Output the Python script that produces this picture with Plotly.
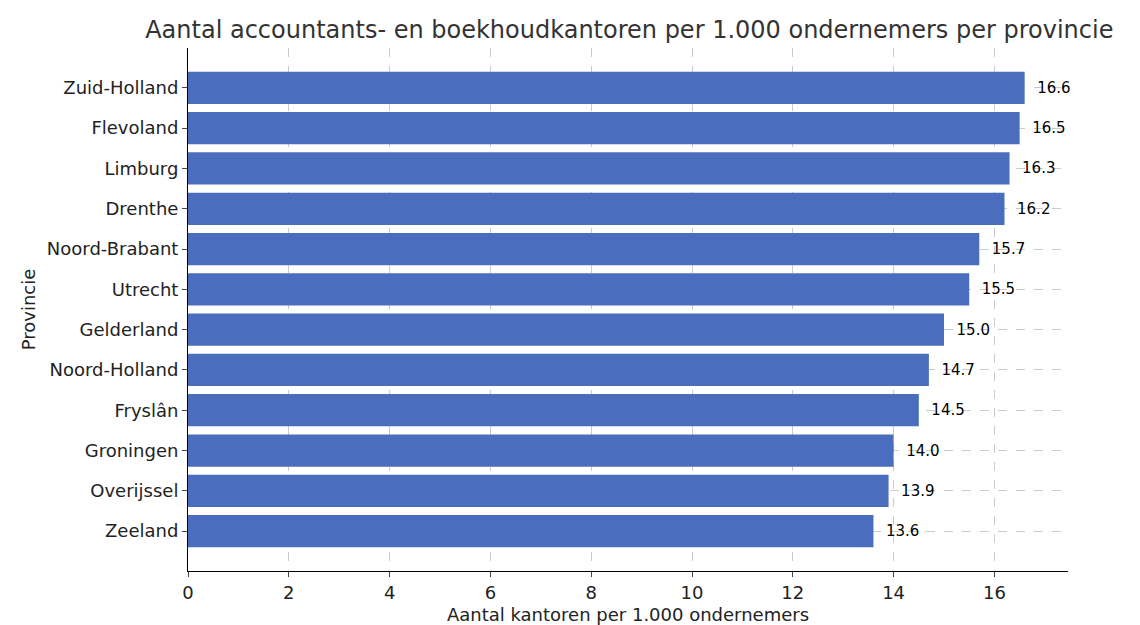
import plotly.graph_objects as go

provincies = ["Zuid-Holland", "Flevoland", "Limburg", "Drenthe", "Noord-Brabant", "Utrecht",
              "Gelderland", "Noord-Holland", "Fryslân", "Groningen", "Overijssel", "Zeeland"]
waarden = [16.6, 16.5, 16.3, 16.2, 15.7, 15.5, 15.0, 14.7, 14.5, 14.0, 13.9, 13.6]

fig = go.Figure(go.Bar(
    x=waarden, y=provincies, orientation="h", width=0.8,
    marker=dict(color="#4a6dbd", line=dict(width=0)),
    text=[f"  {v:.1f}" for v in waarden], textposition="outside",
    textfont=dict(size=15, color="black"), cliponaxis=False,
))

fig.update_layout(
    width=1140, height=625,
    font=dict(family="DejaVu Sans", color="#222"),
    plot_bgcolor="white", paper_bgcolor="white",
    margin=dict(l=180, r=80, t=40, b=62),
    title=dict(text="Aantal accountants- en boekhoudkantoren per 1.000 ondernemers per provincie",
               x=0.545, xanchor="center", y=0.965, yanchor="middle", font=dict(size=24, color="#333")),
    showlegend=False,
)
fig.update_xaxes(range=[0, 17.46], dtick=2, showgrid=True, gridcolor="rgba(180,180,180,0.7)", griddash="dash",
                 showline=True, linecolor="black", ticks="outside", tickfont=dict(size=18, color="#222"),
                 title=dict(text="Aantal kantoren per 1.000 ondernemers", font=dict(size=18), standoff=6),
                 zeroline=False, layer="above traces")
fig.update_yaxes(range=[11.99, -0.99], showgrid=True, gridcolor="rgba(180,180,180,0.7)", griddash="dash",
                 showline=True, linecolor="black", ticks="outside", tickfont=dict(size=18, color="#222"),
                 title=dict(text="Provincie", font=dict(size=18), standoff=6), layer="above traces")

fig.write_html("out.html")
